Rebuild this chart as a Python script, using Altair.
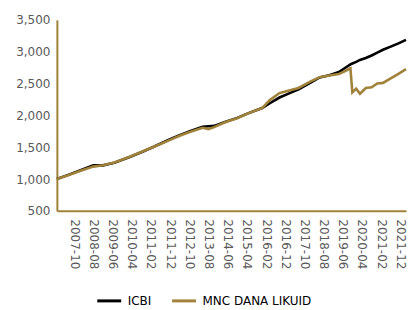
import altair as alt
import pandas as pd

dates = ["2007-01", "2007-07", "2008-01", "2008-08", "2009-01", "2009-07", "2010-03",
         "2010-09", "2011-03", "2011-12", "2012-05", "2012-11", "2013-05", "2013-08",
         "2013-11", "2014-05", "2014-11", "2015-05", "2015-12", "2016-04", "2016-09",
         "2017-02", "2017-07", "2018-01", "2018-06", "2018-11", "2019-04", "2019-07",
         "2019-10", "2019-11", "2020-01", "2020-03", "2020-06", "2020-09", "2020-12",
         "2021-03", "2021-07", "2021-11", "2022-03"]
icbi = [1000, 1065, 1135, 1215, 1215, 1255, 1345, 1420, 1500, 1625, 1690, 1760, 1820, 1830,
        1835, 1900, 1960, 2035, 2115, 2190, 2280, 2345, 2410, 2510, 2595, 2630, 2680, 2740,
        2800, 2815, 2840, 2870, 2900, 2940, 2985, 3030, 3080, 3130, 3185]
mnc = [1000, 1060, 1125, 1195, 1215, 1260, 1350, 1425, 1500, 1615, 1680, 1745, 1805, 1785,
       1815, 1895, 1955, 2035, 2115, 2240, 2350, 2390, 2430, 2530, 2600, 2625, 2650, 2690,
       2740, 2360, 2420, 2340, 2430, 2440, 2500, 2510, 2580, 2650, 2725]
series = ["ICBI", "MNC DANA LIKUID"]
colors = ["#000000", "#A0823A"]
tick_labels = ["2007-10", "2008-08", "2009-06", "2010-04", "2011-02", "2011-12", "2012-10",
               "2013-08", "2014-06", "2015-04", "2016-02", "2016-12", "2017-10", "2018-08",
               "2019-06", "2020-04", "2021-02", "2021-12"]
y_ticks = [500, 1000, 1500, 2000, 2500, 3000, 3500]

rows = []
for i, (name, vals) in enumerate(zip(series, [icbi, mnc])):
    for d, v in zip(dates, vals):
        rows.append({"date": d + "-01T00:00:00Z", "value": v, "series": name, "order": i})
df = pd.DataFrame(rows)

def dt(s):
    y, m = s.split("-")
    return alt.DateTime(year=int(y), month=int(m), date=1, utc=True)

gold = "#A0823A"
font = "DejaVu Sans"

chart = alt.Chart(df).mark_line(strokeWidth=2.6).encode(
    x=alt.X("date:T",
            scale=alt.Scale(type="utc", domain=[dt("2007-01"), dt("2022-03")], nice=False),
            axis=alt.Axis(title=None, values=[dt(t) for t in tick_labels], format="%Y-%m",
                          labelAngle=90, labelFont=font, labelFontSize=12,
                          labelColor="#595959", ticks=False, grid=False,
                          domainColor=gold, domainWidth=2, labelPadding=8,
                          labelOverlap=False, labelFlush=False)),
    y=alt.Y("value:Q",
            scale=alt.Scale(domain=[500, 3500], nice=False, zero=False),
            axis=alt.Axis(title=None, values=y_ticks, format=",.0f", labelFont=font,
                          labelFontSize=12, labelColor="#595959", ticks=False,
                          grid=False, domainColor=gold, domainWidth=2, labelPadding=7)),
    color=alt.Color("series:N",
                    scale=alt.Scale(domain=series, range=colors),
                    legend=alt.Legend(title=None, orient="none", direction="horizontal",
                                      legendX=39, legendY=268, symbolType="stroke",
                                      symbolSize=576, symbolStrokeWidth=3,
                                      labelFont=font, labelFontSize=12,
                                      labelColor="#000000", columnPadding=14,
                                      labelOffset=5)),
    order=alt.Order("order:Q"),
    detail="series:N",
).properties(
    width=350, height=191.5,
    autosize=alt.AutoSizeParams(type="none"),
    padding={"left": 49, "top": 11.5, "right": 1, "bottom": 99},
).configure_view(stroke=None)

chart.save("out.html", embed_options={"renderer": "svg", "actions": False})
